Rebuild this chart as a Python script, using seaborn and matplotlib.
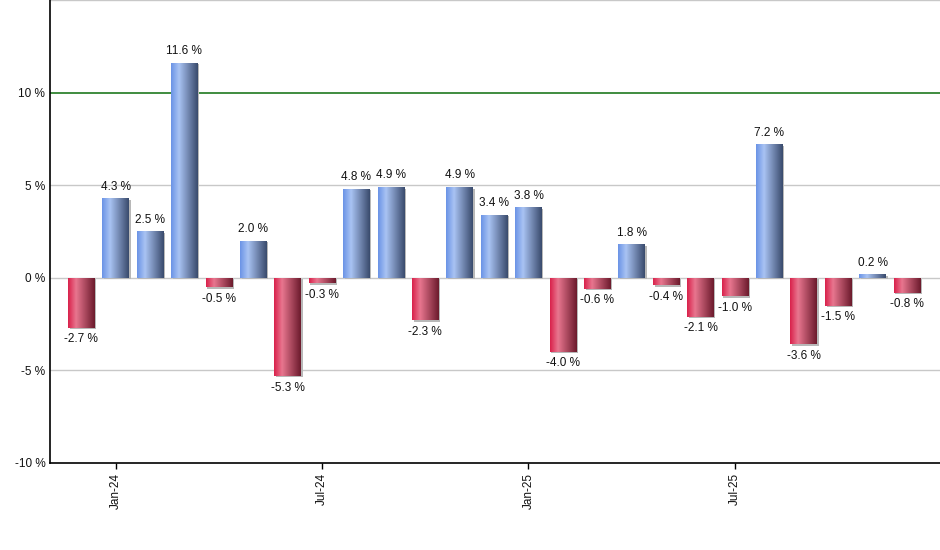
import matplotlib
matplotlib.use("Agg")
import matplotlib.pyplot as plt
import numpy as np
import pandas as pd
import seaborn as sns
from matplotlib.colors import LinearSegmentedColormap
from matplotlib.patches import Rectangle

months = ["Dec-23", "Jan-24", "Feb-24", "Mar-24", "Apr-24", "May-24", "Jun-24",
          "Jul-24", "Aug-24", "Sep-24", "Oct-24", "Nov-24", "Dec-24", "Jan-25",
          "Feb-25", "Mar-25", "Apr-25", "May-25", "Jun-25", "Jul-25", "Aug-25",
          "Sep-25", "Oct-25", "Nov-25", "Dec-25"]
returns = [-2.7, 4.3, 2.5, 11.6, -0.5, 2.0, -5.3, -0.3, 4.8, 4.9, -2.3, 4.9, 3.4,
           3.8, -4.0, -0.6, 1.8, -0.4, -2.1, -1.0, 7.2, -3.6, -1.5, 0.2, -0.8]
tick_months = ["Jan-24", "Jul-24", "Jan-25", "Jul-25"]
y_ticks = [-10, -5, 0, 5, 10]

df = pd.DataFrame({"month": months, "ret": returns})

sns.set_style("white")
plt.rcParams["font.family"] = ["Liberation Sans", "DejaVu Sans"]

blue_cmap = LinearSegmentedColormap.from_list(
    "blue", [(0, "#6a93e6"), (0.3, "#a9c3f3"), (1, "#394a6c")])
red_cmap = LinearSegmentedColormap.from_list(
    "red", [(0, "#d9204a"), (0.3, "#e8768f"), (1, "#6b1a2c")])

fig = plt.figure(figsize=(9.4, 5.5), dpi=100)
ax = fig.add_axes([49.5 / 940, 1 - 463 / 550, 1 - 49.5 / 940, 463 / 550])

sns.barplot(data=df, x="month", y="ret", order=months, color="#7799dd",
            width=0.77, ax=ax, zorder=3)

grad = np.linspace(0, 1, 256).reshape(1, -1)
bars = list(ax.patches)
for bar, v in zip(bars, returns):
    x0, y0 = bar.get_x(), bar.get_y()
    w, h = bar.get_width(), bar.get_height()
    # thin shadow to the right/bottom
    ax.add_patch(Rectangle((x0 + 0.05, min(y0, y0 + h) - 0.08), w, abs(h),
                           facecolor="#b8b8b8", edgecolor="none", zorder=2))
    bar.set_facecolor("none")
    bar.set_edgecolor("none")
    cmap = blue_cmap if v >= 0 else red_cmap
    im = ax.imshow(grad, cmap=cmap, aspect="auto", zorder=3,
                   extent=[x0, x0 + w, min(y0, y0 + h), max(y0, y0 + h)])
    im.set_clip_path(bar)

ax.bar_label(ax.containers[0], labels=[f"{v:.1f} %" for v in returns],
             padding=4, fontsize=8.5, color="#111111")

ax.set_xlim(-0.92, 24.96)
ax.set_ylim(-10, 15)

ax.set_yticks(y_ticks)
ax.set_yticklabels([f"{t} %" for t in y_ticks], fontsize=8.5, color="#111111")
for y in [-5, 0, 5, 15]:
    ax.axhline(y, color="#c8c8c8", lw=1, zorder=1)
ax.axhline(10, color="#0b6e0b", lw=1.1, zorder=1)

ax.set_xticks([months.index(m) for m in tick_months])
ax.set_xticklabels(tick_months, rotation=90, fontsize=8.5, color="#111111")
ax.tick_params(axis="x", length=4, width=1, color="black", pad=3, bottom=True)
ax.tick_params(axis="y", length=0, pad=3)

for side in ["top", "right"]:
    ax.spines[side].set_visible(False)
for side in ["left", "bottom"]:
    ax.spines[side].set_color("black")
    ax.spines[side].set_linewidth(1.2)

ax.set_xlabel("")
ax.set_ylabel("")

fig.savefig("out.png", dpi=100)
